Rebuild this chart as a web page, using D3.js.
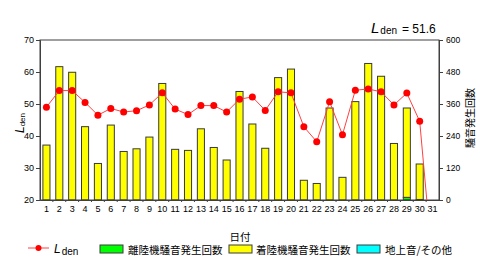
<!DOCTYPE html>
<html>
<head>
<meta charset="utf-8">
<script src="https://cdn.jsdelivr.net/npm/d3@7"></script>
<style>
  body { margin: 0; background: #fff; }
  svg { display: block; font-family: "Liberation Sans", Arial, sans-serif; }
  .jp { font-family: "Noto Sans CJK JP", sans-serif; }
</style>
</head>
<body>
<svg id="chart" width="480" height="263"></svg>
<script>
// Data
const days = d3.range(1, 32);
const lden = [49.0, 54.2, 54.2, 50.5, 46.5, 48.6, 47.5, 47.9, 49.7, 53.5,
              48.4, 46.7, 49.5, 49.5, 47.5, 51.5, 52.2, 48.0, 53.8, 53.5,
              42.9, 38.2, 50.7, 40.4, 54.3, 54.7, 53.8, 49.7, 53.4, 44.6, 0];
const takeoff = [0, 0, 0, 0, 0, 0, 0, 0, 0, 0,
                 0, 0, 0, 0, 0, 0, 0, 0, 0, 0,
                 0, 0, 0, 0, 0, 0, 0, 0, 10, 2, 0];
const landing = [206, 500, 479, 275, 137, 281, 182, 192, 236, 437,
                 190, 186, 267, 197, 150, 407, 285, 194, 459, 491,
                 74, 62, 345, 85, 369, 512, 464, 212, 335, 133, 0];
const ground = new Array(31).fill(0);
const leftTicks = [20, 30, 40, 50, 60, 70];
const rightTicks = [0, 120, 240, 360, 480, 600];
const ldenAvg = 51.6;

const seriesNames = ['離陸機騒音発生回数', '着陸機騒音発生回数', '地上音/その他'];
const seriesColors = ['#00ff00', '#ffff00', '#00ffff'];

const svg = d3.select('#chart');
const plotL = 40, plotR = 439, plotT = 40, plotB = 200;

const x = d3.scaleBand()
  .domain(days)
  .range([plotL, plotR])
  .paddingInner(0.45)
  .paddingOuter(0.225);
const yL = d3.scaleLinear().domain([20, 70]).range([plotB, plotT]);
const yR = d3.scaleLinear().domain([0, 600]).range([plotB, plotT]);

// Stack the counts
const table = days.map((d, i) => ({ day: d, s0: takeoff[i], s1: landing[i], s2: ground[i] }));
const stacked = d3.stack().keys(['s0', 's1', 's2'])(table);

svg.append('g')
  .selectAll('g')
  .data(stacked)
  .join('g')
    .attr('fill', (d, i) => seriesColors[i])
  .selectAll('rect')
  .data(d => d.filter(p => p[1] - p[0] > 0))
  .join('rect')
    .attr('x', p => x(p.data.day))
    .attr('width', x.bandwidth())
    .attr('y', p => yR(p[1]))
    .attr('height', p => yR(p[0]) - yR(p[1]))
    .attr('stroke', '#3a3a3a')
    .attr('stroke-width', 1);

// Frame and axes
svg.append('rect')
  .attr('x', plotL).attr('y', plotT)
  .attr('width', plotR - plotL).attr('height', plotB - plotT)
  .attr('fill', 'none').attr('stroke', '#404040');

const axL = svg.append('g')
  .attr('transform', `translate(${plotL},0)`)
  .call(d3.axisLeft(yL).tickValues(leftTicks).tickSize(4).tickPadding(2));
const axR = svg.append('g')
  .attr('transform', `translate(${plotR},0)`)
  .call(d3.axisRight(yR).tickValues(rightTicks).tickSize(4).tickPadding(3));
const axB = svg.append('g')
  .attr('transform', `translate(0,${plotB})`)
  .call(d3.axisBottom(x).tickSize(0).tickPadding(6));

[axL, axR, axB].forEach(a => {
  a.select('.domain').attr('stroke', '#404040');
  a.selectAll('line').attr('stroke', '#404040');
  a.selectAll('text').attr('font-size', 9).attr('fill', '#000');
});
axR.selectAll('text').attr('font-size', 8.5);

// small ticks between days
svg.append('g')
  .selectAll('line')
  .data(days.slice(0, 30))
  .join('line')
    .attr('x1', d => x(d) + x.bandwidth() + x.step() * x.paddingInner() / 2)
    .attr('x2', d => x(d) + x.bandwidth() + x.step() * x.paddingInner() / 2)
    .attr('y1', plotB).attr('y2', plotB + 2)
    .attr('stroke', '#404040');

// Lden line (clipped to the plot)
svg.append('clipPath').attr('id', 'plot-clip')
  .append('rect')
  .attr('x', plotL).attr('y', plotT)
  .attr('width', plotR - plotL).attr('height', plotB - plotT);

const cx = d => x(d) + x.bandwidth() / 2;
const plotG = svg.append('g').attr('clip-path', 'url(#plot-clip)');
plotG.append('path')
  .datum(days)
  .attr('fill', 'none')
  .attr('stroke', '#ff4040')
  .attr('stroke-width', 1)
  .attr('d', d3.line().x(d => cx(d)).y((d, i) => yL(lden[i])));
plotG.selectAll('circle')
  .data(days)
  .join('circle')
    .attr('cx', d => cx(d))
    .attr('cy', (d, i) => yL(lden[i]))
    .attr('r', 3.5)
    .attr('fill', '#ff0000');

// Titles
const title = svg.append('text').attr('x', 371).attr('y', 33).attr('fill', '#000');
title.append('tspan').attr('font-size', 15).attr('font-style', 'italic').text('L');
title.append('tspan').attr('font-size', 10).attr('dx', 1).attr('dy', 1).text('den');
title.append('tspan').attr('font-size', 12).attr('dx', 5).attr('dy', -1).text(`= ${ldenAvg}`);

const yLab = svg.append('text')
  .attr('transform', 'translate(24,123) rotate(-90)')
  .attr('text-anchor', 'middle');
yLab.append('tspan').attr('font-size', 12).attr('font-style', 'italic').text('L');
yLab.append('tspan').attr('font-size', 8).attr('dy', 1).text('den');

svg.append('text')
  .attr('class', 'jp')
  .attr('transform', 'translate(474,118) rotate(-90)')
  .attr('text-anchor', 'middle')
  .attr('font-size', 10)
  .text('騒音発生回数');

svg.append('text')
  .attr('class', 'jp')
  .attr('x', 240).attr('y', 241)
  .attr('text-anchor', 'middle')
  .attr('font-size', 10.5)
  .text('日付');

// Legend
const lg = svg.append('g');
lg.append('line')
  .attr('x1', 28).attr('x2', 49).attr('y1', 248).attr('y2', 248)
  .attr('stroke', '#ff4040');
lg.append('circle').attr('cx', 38.5).attr('cy', 248).attr('r', 3).attr('fill', '#ff0000');
const lgL = lg.append('text').attr('x', 54).attr('y', 253);
lgL.append('tspan').attr('font-size', 12).attr('font-style', 'italic').text('L');
lgL.append('tspan').attr('font-size', 10).attr('dx', 1).attr('dy', 2).text('den');

const boxX = [100, 229, 357];
const textX = [128, 256, 385];
seriesNames.forEach((name, i) => {
  lg.append('rect')
    .attr('x', boxX[i]).attr('y', 245)
    .attr('width', 23).attr('height', 8)
    .attr('fill', seriesColors[i])
    .attr('stroke', '#3a3a3a');
  lg.append('text')
    .attr('class', 'jp')
    .attr('x', textX[i]).attr('y', 253.5)
    .attr('font-size', 10.5)
    .text(name);
});
</script>
</body>
</html>
